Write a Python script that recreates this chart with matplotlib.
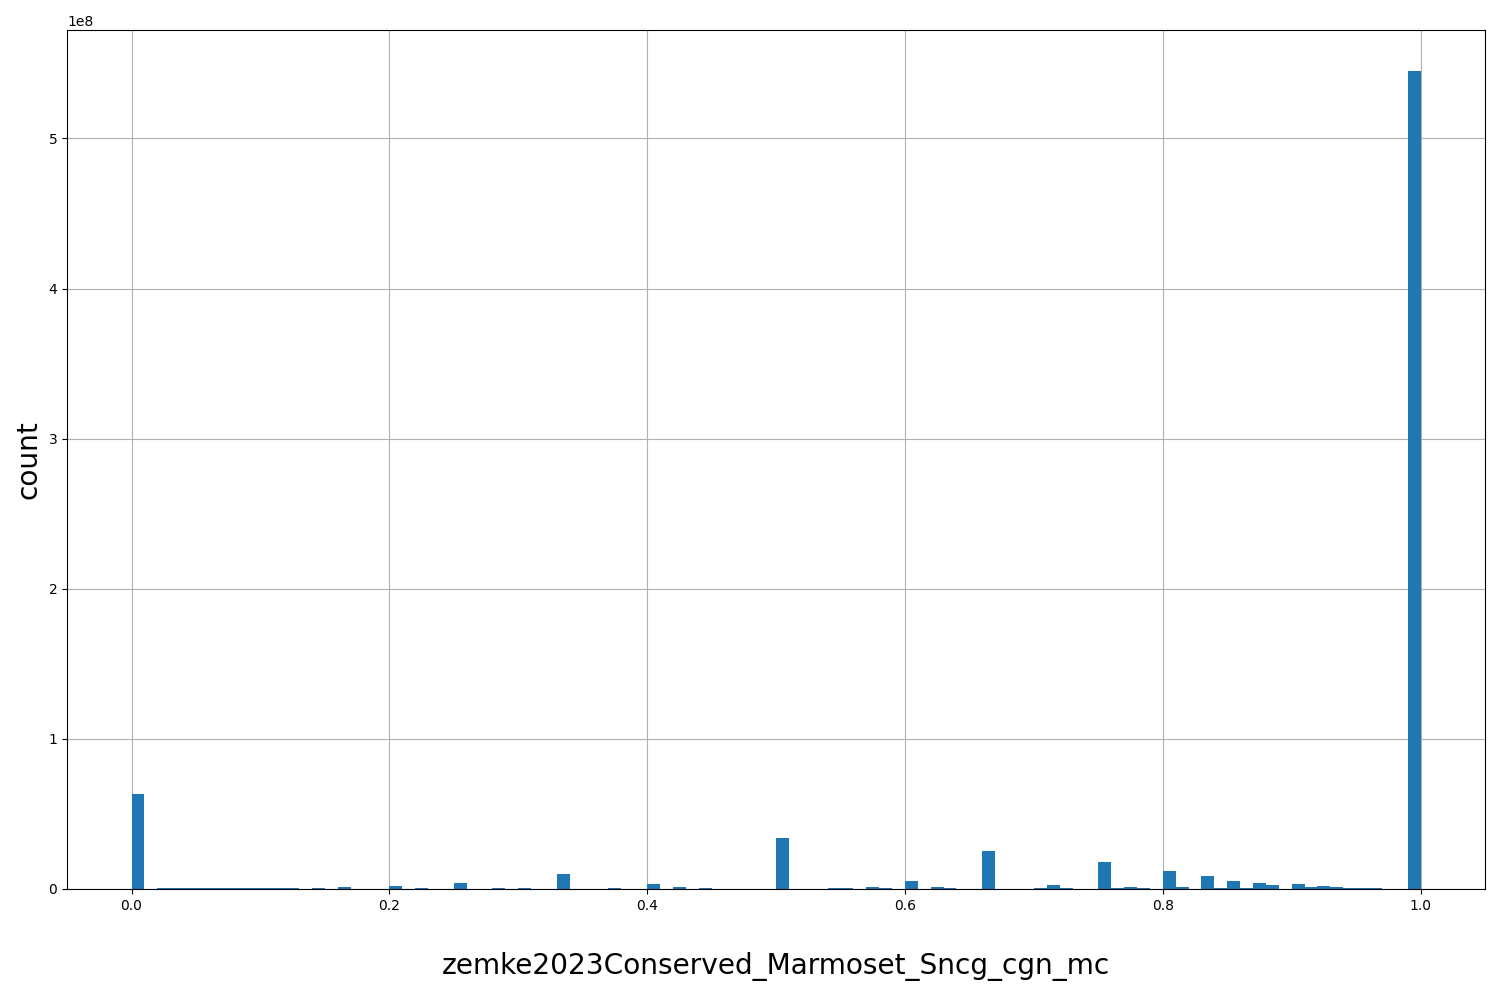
import numpy as np
import matplotlib
matplotlib.use('Agg')
import matplotlib.pyplot as plt

# histogram counts per 0.01 bin
bin_edges = np.linspace(0.0, 1.0, 101)
counts = [0.0] * 100
counts[0] = 6.33e7
for i in range(2, 13):
    counts[i] = 0.7e6
counts[14] = 0.7e6
counts[16] = 1.5e6
counts[20] = 2.0e6
counts[22] = 0.7e6
counts[25] = 4.0e6
counts[28] = 0.7e6
counts[30] = 0.7e6
counts[33] = 1.0e7
counts[37] = 0.7e6
counts[40] = 3.3e6
counts[42] = 1.5e6
counts[44] = 0.7e6
counts[50] = 3.4e7
counts[54] = 0.7e6
counts[55] = 0.7e6
counts[57] = 1.5e6
counts[58] = 0.7e6
counts[60] = 5.3e6
counts[62] = 1.5e6
counts[63] = 0.7e6
counts[66] = 2.5e7
counts[70] = 0.7e6
counts[71] = 2.7e6
counts[72] = 0.7e6
counts[75] = 1.8e7
counts[76] = 0.7e6
counts[77] = 1.5e6
counts[78] = 0.7e6
counts[80] = 1.2e7
counts[81] = 1.5e6
counts[83] = 8.7e6
counts[84] = 0.7e6
counts[85] = 5.3e6
counts[86] = 0.7e6
counts[87] = 4.0e6
counts[88] = 2.7e6
counts[90] = 3.3e6
counts[91] = 1.5e6
counts[92] = 2.0e6
counts[93] = 1.5e6
counts[94] = 0.7e6
counts[95] = 0.7e6
counts[96] = 0.7e6
counts[99] = 5.45e8

column_name = 'zemke2023Conserved_Marmoset_Sncg_cgn_mc'

fig, ax = plt.subplots(figsize=(15, 10), dpi=100)
ax.hist(bin_edges[:-1], bins=bin_edges, weights=counts, color='#1f77b4')
ax.grid(True, color='#b0b0b0')
ax.set_axisbelow(True)
ax.set_xlabel(column_name, fontsize=20.2, labelpad=28)
ax.set_ylabel('count', fontsize=20.2)

fig.subplots_adjust(left=0.0447, right=0.99, bottom=0.111, top=0.97)
fig.savefig('out.png')
